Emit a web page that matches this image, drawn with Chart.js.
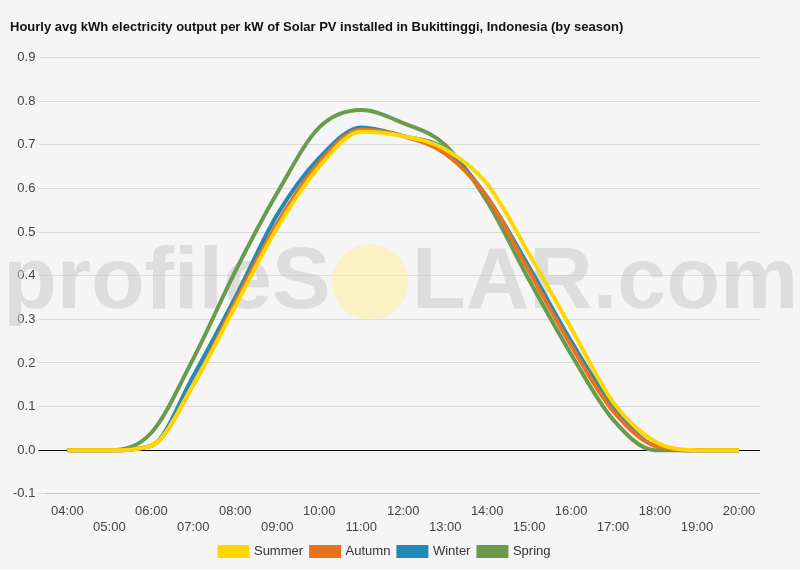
<!DOCTYPE html>
<html><head><meta charset="utf-8">
<script src="https://cdn.jsdelivr.net/npm/chart.js@4"></script>
<style>html,body{margin:0;padding:0;background:#f5f5f5;}#w{width:800px;height:570px;}</style>
</head><body><div id="w"><canvas id="c"></canvas></div>
<script>
const hours = ['04:00','05:00','06:00','07:00','08:00','09:00','10:00','11:00','12:00','13:00','14:00','15:00','16:00','17:00','18:00','19:00','20:00'];
const summer = [0,0,0.01,0.15,0.33,0.51,0.65,0.73,0.72,0.69,0.61,0.45,0.28,0.11,0.02,0,0];
const autumn = [0,0,0.01,0.15,0.34,0.52,0.66,0.735,0.72,0.68,0.58,0.41,0.24,0.09,0.01,0,0];
const winter = [0,0,0.01,0.17,0.35,0.54,0.67,0.74,0.72,0.69,0.58,0.42,0.25,0.10,0.01,0,0];
const spring = [0,0,0.04,0.21,0.41,0.59,0.74,0.78,0.75,0.70,0.57,0.39,0.22,0.07,0,0,0];
const mk=(l,d,c)=>({label:l,data:d,borderColor:c,backgroundColor:c,borderWidth:4,pointRadius:0,tension:0.4,cubicInterpolationMode:'monotone',fill:false});
const wm={id:'wm',beforeDatasetsDraw(ch){const x=ch.ctx;x.save();
x.fillStyle='rgba(255,240,150,0.5)';x.beginPath();x.arc(370,282,38,0,Math.PI*2);x.fill();
x.font='bold 88px Arial, "Liberation Sans"';x.fillStyle='rgba(200,200,200,0.55)';x.textBaseline='middle';
x.fillText('profileS',3,284);x.fillText('LAR.com',412,284);x.restore();}};
new Chart(document.getElementById('c'),{type:'line',
data:{labels:hours.map((h,i)=>i%2?['',h]:h),datasets:[mk('Summer',summer,'#ffd700'),mk('Autumn',autumn,'#e8731c'),mk('Winter',winter,'#2389b9'),mk('Spring',spring,'#6a9a4b')]},
options:{responsive:true,maintainAspectRatio:false,animation:false,
layout:{padding:{left:10,right:40,top:0,bottom:2}},
plugins:{title:{display:true,text:'Hourly avg kWh electricity output per kW of Solar PV installed in Bukittinggi, Indonesia (by season)',align:'start',color:'#111',font:{family:'Arial',size:13,weight:'bold'},padding:{top:20,bottom:22}},
legend:{position:'bottom',labels:{boxWidth:28,boxHeight:9,padding:8,color:'#333',font:{family:'Arial',size:13}}},tooltip:{enabled:false}},
scales:{x:{offset:true,grid:{display:false},ticks:{autoSkip:false,maxRotation:0,padding:2,color:'#444',font:{family:'Arial',size:13}}},
y:{min:-0.1,max:0.9,ticks:{stepSize:0.1,color:'#444',font:{family:'Arial',size:13},callback:v=>v.toFixed(1)},border:{display:false},
grid:{color:c=>Math.abs(c.tick.value)<1e-9?'#000':'#d9d9d9'}}}},plugins:[wm]});
</script></body></html>
